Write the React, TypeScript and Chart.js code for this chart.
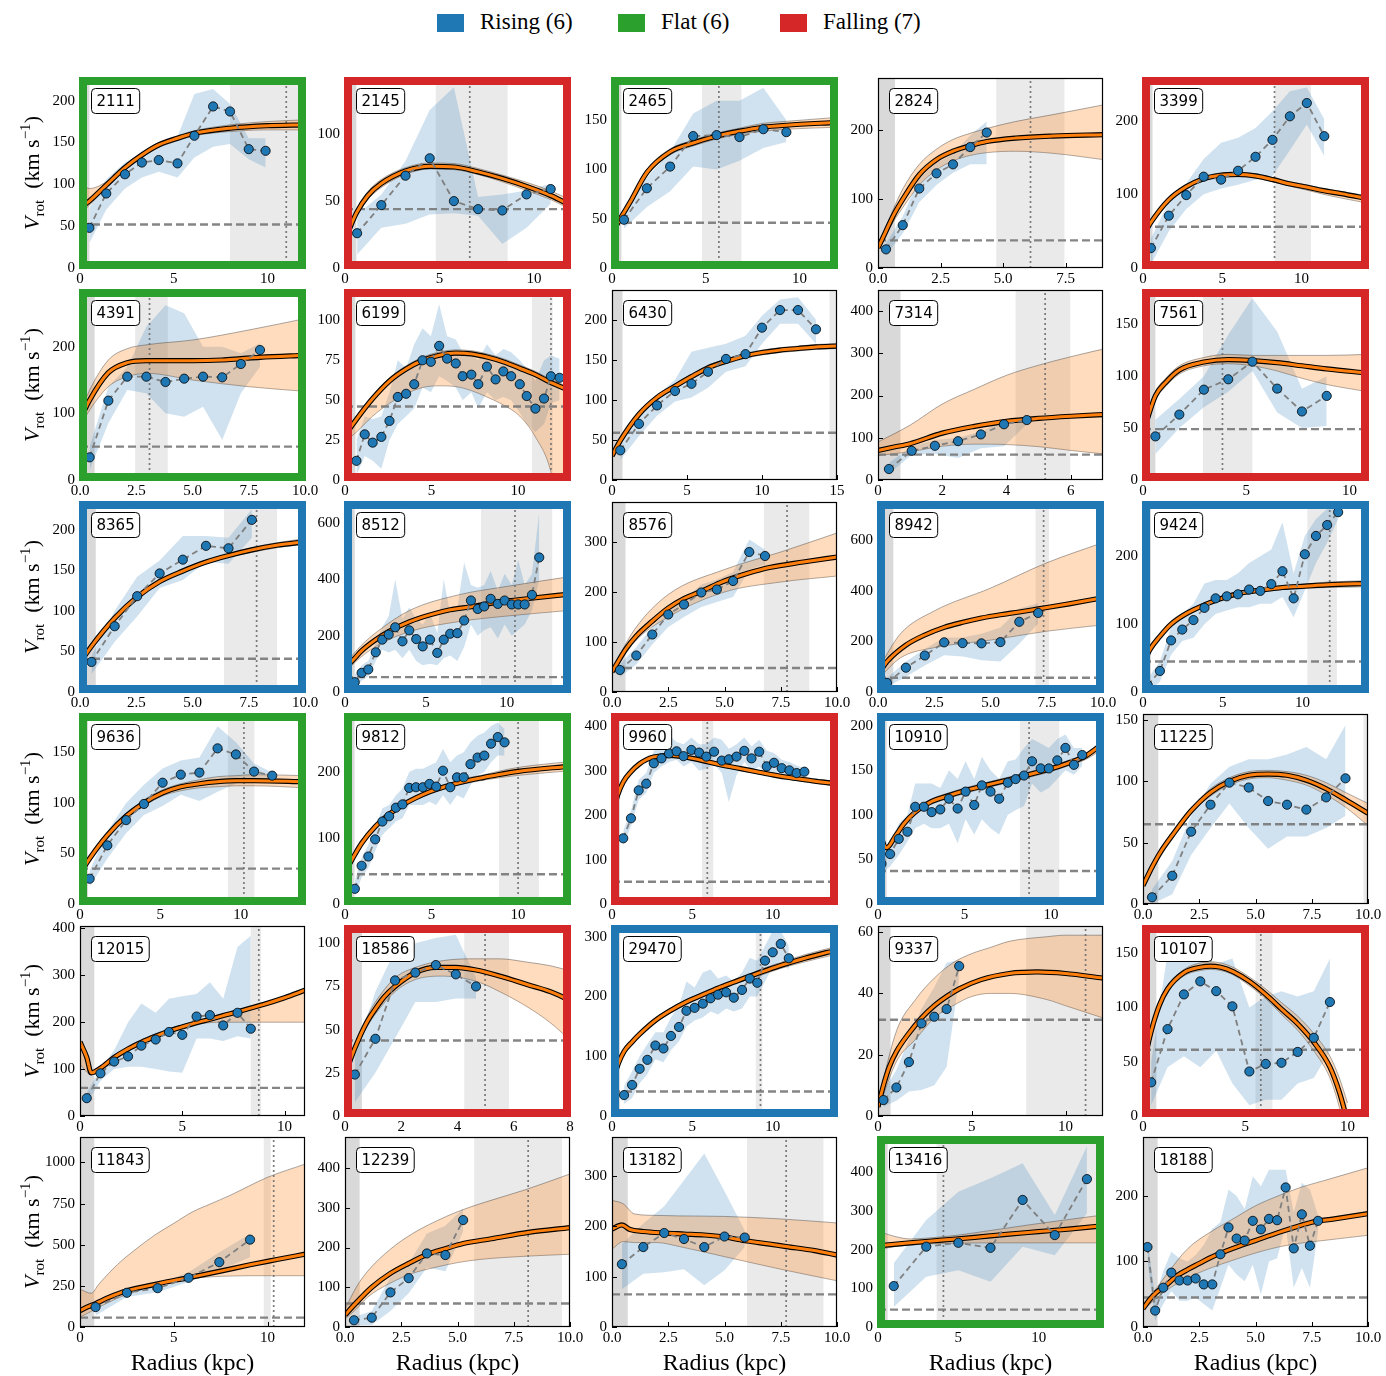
import React, { useEffect, useRef } from 'react';
import { Chart, registerables } from 'chart.js';
Chart.register(...registerables);

// ---------------- data ----------------
const panelIds = ['2111','2145','2465','2824','3399','4391','6199','6430','7314','7561','8365','8512','8576','8942','9424','9636','9812','9960','10910','11225','12015','18586','29470','9337','10107','11843','12239','13182','13416','18188'];
const panelClass = ['flat','falling','flat','','falling','flat','falling','','','falling','rising','rising','','rising','rising','flat','flat','falling','rising','','','falling','rising','','falling','','','','flat',''];
const legendLabels = ['Rising (6)', 'Flat (6)', 'Falling (7)'];
const legendKeys = ['rising', 'flat', 'falling'];

const xMax = [12,11.9,12,9,14.2, 10,13,15,7,10.9, 10,13.9,10,10,14.1, 14,13,14,13,10, 11,8,14,12,11, 12,10,10,14,10];
const yMax = [227,142,193,275,258, 285,119,237,450,183, 234,675,380,750,280, 188,288,428,213,155, 405,110,318,62,175, 1155,478,378,492,290];
const xTickVals = [
  [0,5,10],[0,5,10],[0,5,10],[0,2.5,5,7.5],[0,5,10],
  [0,2.5,5,7.5,10],[0,5,10],[0,5,10,15],[0,2,4,6],[0,5,10],
  [0,2.5,5,7.5,10],[0,5,10],[0,2.5,5,7.5,10],[0,2.5,5,7.5,10],[0,5,10],
  [0,5,10],[0,5,10],[0,5,10],[0,5,10],[0,2.5,5,7.5,10],
  [0,5,10],[0,2,4,6,8],[0,5,10],[0,5,10],[0,5,10],
  [0,5,10],[0,2.5,5,7.5,10],[0,2.5,5,7.5,10],[0,5,10],[0,2.5,5,7.5,10]];
const yTickVals = [
  [0,50,100,150,200],[0,50,100],[0,50,100,150],[0,100,200],[0,100,200],
  [0,100,200],[0,25,50,75,100],[0,50,100,150,200],[0,100,200,300,400],[0,50,100,150],
  [0,50,100,150,200],[0,200,400,600],[0,100,200,300],[0,200,400,600],[0,100,200],
  [0,50,100,150],[0,100,200],[0,100,200,300,400],[0,50,100,150,200],[0,50,100,150],
  [0,100,200,300,400],[0,25,50,75,100],[0,100,200,300],[0,20,40,60],[0,50,100,150],
  [0,250,500,750,1000],[0,100,200,300,400],[0,100,200,300],[0,100,200,300,400],[0,100,200]];
const innerShade = [0.5,0.6,0.5,0.68,0.6, 0.65,0.6,0.7,0.7,0.6, 0.7,0.6,0.6,0.68,0.5, 0.5,0.55,0.5,0.5,0.68, 0.7,0.6,0.5,0.67,0.65, 0.76,0.65,0.7,0.6,0.65];
const outerShade: (number[] | null)[] = [
  [8,12],[4.8,8.6],[4.8,6.9],[4.73,7.46],[8.3,10.6],
  [2.45,3.9],[10.8,12.0],[14.5,15],[4.28,5.98],[2.9,5.3],
  [6.4,8.76],[8.4,12.8],[6.75,8.77],[7.0,7.6],[10.3,12.15],
  [9.2,10.85],[8.9,11.2],[5.6,6.3],[8.2,10.47],[9.8,10],
  [8.35,8.85],[4.24,5.83],[8.95,9.35],[7.9,12],[5.5,6.33],
  [9.8,10.17],[5.74,9.64],[6.0,9.4],[3.65,14],null];
const vLine: (number | null)[] = [11.0,6.6,5.7,6.1,8.3, 3.09,11.9,null,5.2,3.85, 7.85,10.5,7.78,7.36,11.7, 10.2,10.0,5.93,8.73,null, 8.74,4.98,9.24,11.07,5.76, 10.33,8.14,7.74,4.07,null];
const hLine = [52,44,46,40,56, 50,46,59,60,49, 41,53,48,56,45, 35,45,50,37,65, 60,43.7,41,31.4,61, 57,59,65,45,45];

const obsR = [
  [0.5,1.4,2.4,3.3,4.2,5.2,6.1,7.1,8.0,9.0,9.9],
  [0.64,1.92,3.2,4.48,5.76,7.04,8.32,9.6,10.88],
  [0.64,1.86,3.1,4.33,5.58,6.8,8.07,9.3],
  [0.32,0.99,1.65,2.34,3.0,3.69,4.35],
  [0.5,1.63,2.73,3.83,4.93,6.0,7.1,8.17,9.27,10.34,11.44],
  [0.43,1.26,2.1,2.95,3.8,4.63,5.47,6.32,7.15,8.0],
  [0.66,1.14,1.6,2.1,2.57,3.05,3.53,4.0,4.48,4.96,5.44,5.9,6.4,6.8,7.3,7.7,8.2,8.7,9.15,9.6,10.1,10.5,11.0,11.5,11.9,12.4],
  [0.55,1.8,3.0,4.2,5.3,6.4,7.6,8.9,10.0,11.2,12.4,13.6],
  [0.34,1.05,1.77,2.49,3.2,3.92,4.63],
  [0.6,1.76,2.95,4.13,5.3,6.5,7.7,8.9],
  [0.51,1.54,2.54,3.54,4.57,5.6,6.6,7.64],
  [0.6,1.03,1.44,1.9,2.3,2.7,3.1,3.55,3.97,4.4,4.8,5.25,5.7,6.1,6.5,6.94,7.36,7.78,8.2,8.6,9.0,9.44,9.86,10.3,10.7,11.1,11.55,12.0],
  [0.35,1.08,1.79,2.5,3.2,3.97,4.66,5.38,6.1,6.8],
  [0.4,1.24,2.08,2.94,3.76,4.6,5.44,6.28,7.12],
  [0.3,1.06,1.76,2.46,3.16,3.85,4.55,5.25,5.95,6.65,7.35,8.04,8.74,9.44,10.14,10.84,11.54,12.23],
  [0.6,1.7,2.87,3.98,5.14,6.27,7.43,8.56,9.7,10.83,11.96],
  [0.57,0.96,1.35,1.74,2.16,2.55,2.94,3.32,3.71,4.1,4.5,4.88,5.27,5.66,6.08,6.47,6.86,7.25,7.66,8.05,8.44,8.83,9.22],
  [0.7,1.18,1.66,2.13,2.6,3.08,3.55,4.02,4.45,4.94,5.42,5.87,6.35,6.83,7.27,7.75,8.23,8.68,9.16,9.63,10.08,10.56,11.04,11.49,11.97],
  [0.2,0.7,1.2,1.7,2.15,2.65,3.1,3.6,4.1,4.6,5.06,5.56,6.0,6.5,7.0,7.5,7.95,8.44,8.9,9.4,9.87,10.36,10.83,11.32,11.8],
  [0.4,1.3,2.14,3.0,3.84,4.7,5.56,6.4,7.26,8.14,9.0],
  [0.33,1.0,1.67,2.35,3.0,3.7,4.35,5.0,5.7,6.35,7.0,7.7,8.35],
  [0.35,1.08,1.78,2.5,3.23,3.94,4.66],
  [0.75,1.25,1.72,2.2,2.7,3.2,3.67,4.17,4.63,5.14,5.65,6.13,6.6,7.1,7.58,8.09,8.57,9.04,9.52,10.0,10.5,11.0],
  [0.29,0.98,1.65,2.32,3.0,3.66,4.33],
  [0.4,1.2,2.0,2.8,3.58,4.37,5.2,6.0,6.77,7.56,8.35,9.14],
  [0.83,2.5,4.14,5.79,7.43,9.07],
  [0.4,1.19,2.02,2.83,3.64,4.46,5.25],
  [0.44,1.39,2.32,3.2,4.1,5.0,5.9],
  [0.98,3.0,5.0,7.0,9.0,11.0,13.0],
  [0.2,0.54,0.9,1.26,1.62,1.98,2.34,2.7,3.08,3.44,3.8,4.16,4.52,4.88,5.24,5.6,5.96,6.34,6.7,7.06,7.42,7.78]];
const obsV = [
  [48,89,112,126,129,125,158,193,187,142,140],
  [26,47,69,82,50,44,43,55,59],
  [49,81,103,134,135,133,141,138],
  [27,62,115,137,150,175,196],
  [27,71,99,124,120,132,151,174,206,224,179],
  [34,119,155,155,147,152,155,154,174,195],
  [12,28.6,23.4,27,37,52,54,60,75,74,84,76,73,65,66,60,71,63,68,65,60,52.6,44.7,51,65,64],
  [37,70,93,111,120,135,151,157,190,212,212,188],
  [26,69,81,92,108,132,142],
  [42,63,87,97,114,88,66,81],
  [37,81,118,146,163,180,177,212],
  [35,68,80,141,186,204,230,180,219,188,162,186,139,186,207,209,254,325,295,304,331,313,325,311,311,311,345,478],
  [44,73,115,155,175,199,205,222,280,272],
  [36,96,144,196,193,192,197,277,312],
  [10,31,76,92,106,124,138,141,144,151,149,159,178,138,203,230,246,265],
  [25,58,83,99,120,128,130,154,148,131,127],
  [23,58,72,98,125,133,146,151,176,177,177,182,178,202,177,192,192,212,222,225,243,253,245],
  [148,193,256,271,317,328,339,344,333,347,341,332,343,323,326,332,345,328,343,310,318,306,301,295,298],
  [45,56,73,81,109,109,103,106,118,107,126,111,133,126,118,136,140,144,160,152,152,161,175,156,167],
  [5.5,23,59,81,99,95,84,81,77,87,102.5],
  [38,91,116,127,150,163,179,173,212,215,193,220,186],
  [24,44.7,78.5,83,87.4,82,75],
  [35,52,79,94,118,113,134,149,176,181,188,197,203,207,198,211,230,223,260,274,288,264],
  [5.2,9.3,17.6,30.2,32.4,34.9,48.9],
  [31,80,112,124,115,101,41,48,49,59,72,105],
  [121,208,236,299,394,531],
  [17,23.5,87,123,185,181,269],
  [125,159,187,175,159,180,178],
  [106,208,218,205,329,238,383],
  [122,25,60,83,71,71,74,65,65,111,152,135,132,162,149,165,163,213,120,172,124,162]];
const obsLo = [
  [30,70,95,108,115,108,132,145,148,130,120],
  [10,30,33,40,41,39,18,30,48],
  [40,62,78,103,100,109,122,128],
  [18,50,95,120,138,150,150],
  [5,50,80,100,108,113,120,125,160,195,152],
  [15,85,135,130,100,95,110,60,130,170],
  [3,15,12,7,25,35,40,45,58,55,65,62,58,50,55,45,55,50,52,50,42,35,30,35,48,50],
  [25,55,80,98,103,115,135,142,170,195,195,170],
  [15,60,62,52,75,80,132],
  [25,50,70,85,105,65,50,52],
  [22,62,93,128,138,160,158,190],
  [10,40,55,110,150,140,150,120,150,110,95,100,95,120,130,110,160,240,200,220,230,190,240,200,220,240,290,400],
  [30,55,95,130,150,170,180,190,245,255],
  [20,60,105,145,140,125,120,190,270],
  [0,15,55,75,80,100,115,120,125,125,130,130,140,110,150,190,220,255],
  [17,45,70,88,97,108,102,111,119,124,122],
  [12,40,55,80,105,115,125,130,150,150,150,155,150,165,150,165,160,180,195,200,215,225,225],
  [130,175,235,250,295,310,320,325,310,320,300,305,315,295,230,290,320,300,310,290,290,280,285,280,285],
  [35,42,55,70,85,90,85,85,90,68,95,78,95,85,78,100,105,110,135,125,130,140,150,145,155],
  [0,8,40,62,82,62,45,55,55,62,72],
  [25,75,100,105,105,100,95,92,165,165,160,170,165],
  [8,25,45,66,66,68,68],
  [20,30,55,70,95,90,110,125,150,160,165,175,170,180,175,180,200,200,225,250,260,245],
  [3,5,8,8.5,10,16,45],
  [10,45,55,45,60,30,10,15,15,30,35,60],
  [70,182,212,273,343,424],
  [5,5,40,85,150,140,240],
  [75,106,109,115,83,113,159],
  [52,130,147,117,208,186,294],
  [100,10,35,55,40,40,45,35,25,60,95,80,70,95,50,100,105,155,60,90,60,145]];
const obsHi = [
  [72,106,126,137,150,157,208,214,196,155,155],
  [40,55,80,118,135,53,55,58,63],
  [56,92,118,157,170,170,183,150],
  [36,75,130,152,165,192,212],
  [40,90,115,148,170,177,190,213,240,245,202],
  [50,140,170,230,262,250,200,200,190,205],
  [25,40,38,40,55,75,70,85,95,90,110,90,88,80,78,75,85,78,82,80,75,70,62,75,78,76],
  [50,85,105,125,160,165,170,180,205,225,228,200],
  [40,80,95,100,115,140,150],
  [58,78,100,140,175,143,88,100],
  [45,100,142,162,192,192,190,225],
  [60,95,110,175,230,270,400,260,300,260,240,280,210,400,280,300,460,380,370,380,430,360,420,380,470,380,420,640],
  [55,90,130,165,185,215,225,240,305,285],
  [55,120,170,215,215,230,255,330,350],
  [20,45,95,115,130,160,165,165,175,190,200,210,250,175,230,255,270,275],
  [33,72,100,118,134,142,145,176,160,139,130],
  [35,70,90,115,145,150,165,175,200,205,205,210,215,235,215,225,230,245,255,260,270,275,265],
  [165,210,280,295,345,370,380,365,360,375,360,360,375,370,350,360,375,355,370,345,340,325,320,312,305],
  [60,70,90,100,135,135,135,130,150,140,160,140,165,150,140,160,162,175,185,180,175,185,190,175,175],
  [12,35,72,98,112,118,118,122,128,118,146],
  [50,100,140,200,240,220,250,255,260,285,250,360,384],
  [35,72,96,100,103,105,80],
  [50,75,100,120,140,140,165,185,225,215,240,245,230,235,225,240,265,260,285,310,310,285],
  [8,15,25,35,42,50,51],
  [50,150,155,150,140,145,100,110,115,110,115,145],
  [162,222,263,333,455,566],
  [25,40,125,160,235,255,298],
  [165,206,240,292,345,270,192],
  [165,277,350,385,424,290,468],
  [135,45,85,115,105,100,110,125,150,160,210,200,180,230,215,240,240,240,175,220,210,170]];

const modelR = [
  [0,0.5,1.4,2.4,3.3,4.2,5.2,6.1,8,10,12],
  [0.2,0.6,1.2,1.9,3.2,4.5,5.8,7.0,8.3,9.6,10.9,11.9],
  [0,0.5,1,1.86,3.1,4.33,5.58,6.8,8.07,9.3,12],
  [0,0.3,0.6,1,1.65,2.34,3,3.69,4.35,5.5,7,9],
  [0,0.5,1.6,2.7,3.8,4.9,6.0,7.1,8.2,9.3,10.3,11.4,12.5,14.2],
  [0,0.43,1.26,2.1,2.95,3.8,5,6.3,7.15,8,10],
  [0,0.66,1.6,2.57,3.53,4.5,5.4,6.4,7.3,8.2,9.15,10.1,11.0,11.9,13],
  [0,0.55,1.8,3,4.2,5.3,6.4,7.6,8.9,10,11.2,12.4,13.6,15],
  [0,0.5,1,2,3,4,5,6,7],
  [0,0.6,1.1,1.76,2.95,4.13,5.3,6.5,7.7,8.9,10.9],
  [0,0.5,1.54,2.54,3.54,4.57,5.6,6.6,7.64,8.8,10],
  [0,0.6,1.0,1.9,2.7,4.0,5.25,6.5,7.8,9.0,10.3,11.5,13.9],
  [0,0.6,1.08,1.8,2.5,3.2,3.9,5,6,7,8.5,10],
  [0,0.2,0.4,1.24,2.08,2.94,3.76,4.6,5.44,6.28,7.12,8.5,10],
  [0,0.42,1.06,1.76,2.46,3.16,4.55,5.95,7.35,8.74,10.14,11.54,14.1],
  [0,0.6,1.7,2.87,3.98,5.14,6.27,7.43,8.56,9.7,10.83,14],
  [0,0.57,0.96,1.74,2.55,3.32,4.1,4.88,5.66,6.47,7.25,8.05,8.83,10,13],
  [0,0.35,0.7,1.18,1.69,2.13,2.6,3.1,3.6,4.2,5,6,6.8,8,9,10,11,12,13,14],
  [0,0.5,1,1.5,2.15,3,4,5,6,7.5,8.5,9.9,11,12,13],
  [0,0.4,0.8,1.3,2.14,3,3.84,4.7,5.56,6.4,7.26,8.14,9,10],
  [0,0.33,0.55,1.0,1.67,2.35,3,3.7,4.35,5,5.7,6.35,7,7.7,8.35,9,10,11],
  [0,0.2,0.5,0.8,1.08,1.4,1.78,2.5,3.23,3.94,4.66,5.5,6.5,7.3,8],
  [0,0.4,0.75,1.25,1.72,2.7,3.67,4.63,5.65,6.6,7.58,8.57,9.52,10.5,12,14],
  [0,0.29,0.6,0.98,1.65,2.32,3.0,3.66,4.33,5.5,7,8.5,10,12],
  [0,0.2,0.4,0.8,1.2,2.0,2.8,3.3,3.8,4.4,5.2,6.0,6.8,7.56,8.35,9.14,9.6,10],
  [0,0.4,0.83,1.5,2.5,4.14,5.79,7.43,9.07,10.5,12],
  [0,0.4,1.19,2.02,2.83,3.64,4.46,5.25,6.5,8.14,10],
  [0,0.44,0.8,1.39,2.32,3.2,4.1,5.0,6.0,7.0,7.74,9.0,10],
  [0,2,4,6,8,10,12,14],
  [0,0.3,0.6,1,1.5,2,2.5,3,4,5,6,7,7.5,8.5,10]];
const modelV = [
  [72,80,99,120,135,147,155,161,167,170,171],
  [28,41,54,63,72.5,76,75.5,72,67,61,54,47],
  [35,52,68,97,118,127,134,139,143,145,148],
  [29,52,75,100,135,157,169,177,183,188,191,193],
  [44,62,92,110,121,126,127,125,120,114,110,105,101,94],
  [90,120,161,176,179,179,179,180,182,184,187],
  [28,38,51,62,69.5,75,78,79.5,79,77,74,70,66,61,56],
  [30,49,82,103,117,129,140,148,155,159,162,164,166,167],
  [70,78,86,111,127,139,146,151,155],
  [45,81,94,106,113.6,116,115,113,110,107,103],
  [36,56,91,117,136,149,160,168,175,181,185],
  [85,120,145,186,215,250,274,292,303,315,325,333,348],
  [40,85,112,142,168,187,200,222,237,249,260,270],
  [65,95,120,185,225,255,275,292,305,316,328,348,372],
  [40,62,82,100,112,121,135,145,150,154,156,158,160],
  [30,45,68,87,100,110,116,119,121,122,122,121],
  [48,75,92,117,136,150,161,170,177,183,188,192,196,201,209],
  [195,245,275,298,315,325,331,334,335,333,328,320,313,305,298,291,285,280,275,271],
  [85,63,76,90,103,114,121,127,132,139,144,151,158,166,180],
  [15,30,43,56,76,91,100,105,106,105,101,94,85,74],
  [158,125,92,102,125,143,157,170,181,190,199,206,214,222,230,238,252,268],
  [23,33,45,55,62,69,75,83,86,86,84.5,81,76,72,67],
  [55,88,108,124,137,160,177,191,203,214,224,234,243,252,264,278],
  [3,10,16,21,27,32,36,39,41.5,44.5,46.5,47,46.5,45],
  [46,62,78,102,117,132,137,138,137,133,124,112,98,85,68,45,22,-5],
  [100,122,142,178,220,262,300,338,378,410,443],
  [30,55,100,135,160,182,197,210,222,238,250],
  [195,203,194,190,187,185,183,179,171,165,160,152,143],
  [210,218,225,232,240,247,254,262],
  [28,42,53,63,78,88,97,106,120,132,144,155,160,165,173]];

// band radii: null = same radii as the model curve
const bandR: (number[] | null)[] = [
  null,null,null,null,null,
  [0,0.43,1.26,2.1,3,5,7.5,10],null,null,[0,1,2,3,4,5,6,7],null,
  null,[0,1,2,4,7,10,13.9],[0,1,2.5,5,7.5,10],[0,1,2.5,5,7.5,10],null,
  null,null,null,null,null,
  [0,0.55,1,2.35,4.35,5,5.7,6.35,7,8,9,10,11],[0,0.2,0.5,0.8,1.08,1.78,2.5,3.5,4.66,5.5,6.5,7.3,8],null,[0,1,2,3,4,5,6,7,9,10,12],null,
  [0,0.6,1,2,3,4,5,6,7,8,10,12],[0,0.5,1,2,3,4,5,6,8,10],[0,0.5,1,2,3,5,7.5,10],[0,1,2,3,5,7,10,14],[0,1,2,3,4,5,6,7,8,10]];
const bandLo = [
  [64,75,96,117,132,144,152,158,163,165,165],
  [25,38,51,60,70,74,73.5,70,64.5,58,51,44],
  [33,49,65,94,115,124,131,136,139,141,143],
  [27,46,66,88,120,142,155,163,167,169,166,157],
  [41,59,89,107,118,123,124,122,117,111,106,100,95,88],
  [80,105,140,155,160,150,140,133],
  [24,30,40,48,54,58,59,58.5,56,52,47,40,27,5,-60],
  [28,46,79,100,114,126,137,145,152,156,159,161,163,164],
  [58,67,80,85,84,79,70,62],
  [42,77,90,102,110,112,110,105,98,92,85],
  [34,54,89,115,134,147,158,166,172,178,182],
  [70,125,165,215,250,270,290],
  [35,100,150,200,220,232],
  [50,135,175,205,240,265],
  [37,59,79,97,109,118,132,142,147,151,153,154,155],
  [28,43,66,85,97,107,112,115,116,117,117,115],
  [45,72,89,114,133,147,158,167,174,180,184,188,191,195,202],
  [189,239,270,294,311,321,327,330,331,329,324,316,309,301,294,287,281,275,270,265],
  [82,60,73,87,100,111,118,124,129,136,141,148,155,162,174],
  [13,28,41,54,74,88,97,102,103,101,97,89,79,64],
  [110,88,98,138,176,186,196,199,200,200,200,200,200],
  [22,32,43,52,59,72,79,81,78,72,63,54,44],
  [51,84,104,120,133,156,173,187,199,210,220,230,238,247,258,271],
  [2,18,25,32,36,39,40,40,38,36,32],
  [43,59,75,99,114,129,134,135,134,130,120,108,93,79,60,35,8,-25],
  [60,95,120,175,220,250,275,295,305,310,312,312],
  [20,45,75,110,135,150,162,170,178,183],
  [155,170,168,168,160,140,115,92],
  [200,208,212,215,217,218,218,218],
  [26,55,75,90,102,113,122,128,132,140]];
const bandHi = [
  [100,95,103,123,138,150,158,164,171,175,177],
  [31,44,57,66,75,78.5,78,74.5,69.5,64,57.5,51],
  [37,55,71,100,121,130,137,142,147,149,153],
  [31,58,84,115,150,172,186,195,202,212,222,236],
  [47,65,95,113,124,129,130,128,123,117,113,108,104,98],
  [100,135,180,197,203,210,225,242],
  [30,40,53,64,71.5,77,80,81.5,81,79,76,72,68,63,58],
  [32,52,85,106,120,132,143,151,158,162,165,167,169,170],
  [90,130,180,215,248,272,292,310],
  [48,85,98,110,118,121,120,120,120,120,121],
  [38,58,93,119,138,151,162,170,178,184,189],
  [100,165,215,290,345,375,410],
  [45,125,195,245,280,318],
  [90,230,320,410,510,590],
  [43,65,85,103,115,124,138,148,153,157,159,162,164],
  [32,47,70,89,103,113,119,123,126,127,128,127],
  [51,78,95,120,139,153,164,173,180,186,192,196,201,207,216],
  [201,251,280,302,319,329,335,338,339,337,332,324,317,309,302,295,289,285,280,277],
  [88,66,79,93,106,117,124,130,135,142,147,154,161,169,183],
  [17,32,45,58,78,94,103,108,109,108,105,99,91,82],
  [160,96,106,148,186,194,203,210,218,228,240,255,272],
  [24,34,47,58,66,80,86,90,91,91,89,87,84],
  [59,92,112,128,141,164,181,195,207,218,228,238,248,257,270,284],
  [5,28,38,45,50,53,55,57,58.5,59,59],
  [49,65,81,105,120,135,141,142,141,137,128,117,104,92,76,55,35,12],
  [230,205,260,380,475,560,630,700,750,800,910,990],
  [45,100,140,195,235,265,290,310,345,385],
  [252,245,225,222,221,220,215,207],
  [248,235,228,230,238,250,268,290],
  [30,78,120,145,165,185,200,213,223,243]];

// ---------------- layout & style ----------------
const COL_LEFT = [80, 345, 612, 878, 1143];
const ROW_TOP = [78, 290, 502, 714, 926, 1137];
const PW = 225, PH = 190;
const ML = 50, MT = 22, MR = 28, MB = 30;
const CW = ML + PW + MR, CH = MT + PH + MB;
const CLASS_COLOR: Record<string, string> = { rising: '#1f77b4', flat: '#2ca02c', falling: '#d62728' };
const SERIF = "'Liberation Serif', 'DejaVu Serif', serif";
const tickFont = { family: SERIF, size: 15 };

const pts = (r: number[], v: number[]) => r.map((x, k) => ({ x, y: v[k] }));
const fmtFor = (vals: number[]) => {
  const dec = vals.some((v) => Math.round(v) !== v) ? 1 : 0;
  return (v: any) => Number(v).toFixed(dec);
};

function buildConfig(i: number): any {
  const mR = modelR[i];
  const bR = bandR[i] ?? mR;
  const vl = vLine[i];
  const fx = fmtFor(xTickVals[i]);
  const fy = fmtFor(yTickVals[i]);
  const plugin = {
    id: 'deco' + i,
    beforeDatasetsDraw(chart: any) {
      const { ctx, chartArea: a, scales } = chart;
      const x = scales.x;
      ctx.save();
      ctx.beginPath();
      ctx.rect(a.left, a.top, a.width, a.height);
      ctx.clip();
      const x0 = x.getPixelForValue(0);
      const x1 = x.getPixelForValue(innerShade[i]);
      ctx.fillStyle = 'rgba(128,128,128,0.3)';
      ctx.fillRect(x0, a.top, x1 - x0, a.height);
      const os = outerShade[i];
      if (os) {
        const s0 = x.getPixelForValue(os[0]);
        const s1 = x.getPixelForValue(os[1]);
        ctx.fillStyle = 'rgba(128,128,128,0.17)';
        ctx.fillRect(s0, a.top, s1 - s0, a.height);
      }
      ctx.restore();
    },
    afterDatasetsDraw(chart: any) {
      const { ctx, chartArea: a, scales } = chart;
      ctx.save();
      ctx.strokeStyle = '#000';
      ctx.lineWidth = 1;
      ctx.beginPath();
      for (const t of xTickVals[i]) {
        const px = Math.round(scales.x.getPixelForValue(t)) + 0.5;
        ctx.moveTo(px, a.bottom);
        ctx.lineTo(px, a.bottom - 5);
      }
      for (const t of yTickVals[i]) {
        const py = Math.round(scales.y.getPixelForValue(t)) + 0.5;
        ctx.moveTo(a.left, py);
        ctx.lineTo(a.left + 5, py);
      }
      ctx.stroke();
      ctx.lineWidth = 1.2;
      ctx.strokeRect(a.left + 0.5, a.top + 0.5, a.width - 1, a.height - 1);
      const cls = panelClass[i];
      if (cls) {
        ctx.strokeStyle = CLASS_COLOR[cls];
        ctx.lineWidth = 8;
        ctx.strokeRect(a.left + 3, a.top + 3, a.width - 6, a.height - 6);
      }
      // id label box
      ctx.font = "15px 'DejaVu Sans', sans-serif";
      const tw = ctx.measureText(panelIds[i]).width;
      const bx = a.left + 11, by = a.top + 10, bw = tw + 10, bh = 25;
      ctx.beginPath();
      ctx.roundRect(bx + 0.5, by + 0.5, bw, bh, 4);
      ctx.fillStyle = '#fff';
      ctx.fill();
      ctx.strokeStyle = '#000';
      ctx.lineWidth = 1;
      ctx.stroke();
      ctx.fillStyle = '#000';
      ctx.textAlign = 'center';
      ctx.textBaseline = 'middle';
      ctx.fillText(panelIds[i], bx + 0.5 + bw / 2, by + 0.5 + bh / 2 + 1);
      ctx.restore();
    },
  };
  const none = 'rgba(0,0,0,0)';
  const datasets: any[] = [
    { data: pts(obsR[i], obsV[i]), borderColor: '#7f7f7f', borderWidth: 1.8, borderDash: [6, 4],
      pointRadius: 4.6, pointBackgroundColor: '#1f77b4', pointBorderColor: '#000', pointBorderWidth: 0.8,
      fill: false, order: 0, clip: 0 },
    { data: pts(mR, modelV[i]), borderColor: '#ff7f0e', borderWidth: 3, pointRadius: 0,
      cubicInterpolationMode: 'monotone', fill: false, order: 1, clip: 0 },
    { data: pts(mR, modelV[i]), borderColor: '#000', borderWidth: 5.2, pointRadius: 0,
      cubicInterpolationMode: 'monotone', fill: false, order: 2, clip: 0 },
    { data: vl == null ? [] : [{ x: vl, y: 0 }, { x: vl, y: yMax[i] }], borderColor: 'rgba(110,110,110,0.9)',
      borderWidth: 1.7, borderDash: [2, 3], pointRadius: 0, fill: false, order: 3, clip: 0 },
    { data: [{ x: 0, y: hLine[i] }, { x: xMax[i], y: hLine[i] }], borderColor: 'rgba(120,120,120,0.9)',
      borderWidth: 2.4, borderDash: [8, 4], pointRadius: 0, fill: false, order: 4, clip: 0 },
    { data: pts(bR, bandHi[i]), borderColor: 'rgba(60,60,60,0.55)', borderWidth: 0.8, pointRadius: 0,
      backgroundColor: 'rgba(255,127,14,0.27)', fill: '+1', cubicInterpolationMode: 'monotone', order: 5, clip: 0 },
    { data: pts(bR, bandLo[i]), borderColor: 'rgba(60,60,60,0.55)', borderWidth: 0.8, pointRadius: 0,
      fill: false, cubicInterpolationMode: 'monotone', order: 6, clip: 0 },
    { data: pts(obsR[i], obsHi[i]), borderColor: none, borderWidth: 0, pointRadius: 0,
      backgroundColor: 'rgba(31,119,180,0.21)', fill: '+1', order: 7, clip: 0 },
    { data: pts(obsR[i], obsLo[i]), borderColor: none, borderWidth: 0, pointRadius: 0,
      fill: false, order: 8, clip: 0 },
  ];
  return {
    type: 'line',
    data: { datasets },
    plugins: [plugin],
    options: {
      responsive: false,
      animation: false,
      devicePixelRatio: 1,
      events: [],
      layout: { padding: { top: MT, right: MR, left: 0, bottom: 0 } },
      plugins: { legend: { display: false }, tooltip: { enabled: false }, title: { display: false } },
      elements: { line: { tension: 0 } },
      scales: {
        x: {
          type: 'linear', min: 0, max: xMax[i],
          afterBuildTicks: (s: any) => { s.ticks = xTickVals[i].map((value) => ({ value })); },
          afterFit: (s: any) => { s.height = MB; },
          grid: { display: false, drawTicks: false },
          border: { display: false },
          ticks: { autoSkip: false, maxRotation: 0, minRotation: 0, padding: 2, color: '#000', font: tickFont, callback: fx },
        },
        y: {
          type: 'linear', min: 0, max: yMax[i],
          afterBuildTicks: (s: any) => { s.ticks = yTickVals[i].map((value) => ({ value })); },
          afterFit: (s: any) => { s.width = ML; },
          grid: { display: false, drawTicks: false },
          border: { display: false },
          ticks: { autoSkip: false, padding: 5, color: '#000', font: tickFont, callback: fy },
        },
      },
    },
  };
}

function Panel({ i }: { i: number }) {
  const ref = useRef<HTMLCanvasElement>(null);
  useEffect(() => {
    const chart = new Chart(ref.current as HTMLCanvasElement, buildConfig(i));
    return () => chart.destroy();
  }, [i]);
  const col = i % 5, row = Math.floor(i / 5);
  return (
    <canvas
      ref={ref}
      width={CW}
      height={CH}
      style={{ position: 'absolute', left: COL_LEFT[col] - ML, top: ROW_TOP[row] - MT, width: CW, height: CH }}
    />
  );
}

export default function App() {
  const legendPos = [437, 618, 780];
  return (
    <div style={{ position: 'absolute', left: 0, top: 0, width: 1386, height: 1376, background: '#fff', overflow: 'hidden', fontFamily: SERIF }}>
      {legendLabels.map((lab, k) => (
        <React.Fragment key={lab}>
          <div style={{ position: 'absolute', left: legendPos[k], top: 14, width: 27, height: 18, background: CLASS_COLOR[legendKeys[k]] }} />
          <div style={{ position: 'absolute', left: legendPos[k] + 43, top: 9, fontSize: 23, lineHeight: '26px', whiteSpace: 'nowrap', color: '#000' }}>{lab}</div>
        </React.Fragment>
      ))}
      {panelIds.map((_, i) => <Panel key={i} i={i} />)}
      {ROW_TOP.map((t, r) => (
        <div key={'yl' + r} style={{ position: 'absolute', left: 33, top: t + PH / 2, transform: 'translate(-50%, -50%) rotate(-90deg)', whiteSpace: 'nowrap', fontSize: 22, lineHeight: '26px', color: '#000' }}>
          <span style={{ fontStyle: 'italic' }}>V</span>
          <span style={{ fontSize: 15, position: 'relative', top: 5 }}>rot</span>
          <span>{'\u2002(km s'}</span>
          <span style={{ fontSize: 15, position: 'relative', top: -9 }}>{'\u22121'}</span>
          <span>)</span>
        </div>
      ))}
      {COL_LEFT.map((l, c) => (
        <div key={'xl' + c} style={{ position: 'absolute', left: l + PW / 2, top: 1362, transform: 'translate(-50%, -50%)', whiteSpace: 'nowrap', fontSize: 24, lineHeight: '28px', color: '#000' }}>
          Radius (kpc)
        </div>
      ))}
    </div>
  );
}
